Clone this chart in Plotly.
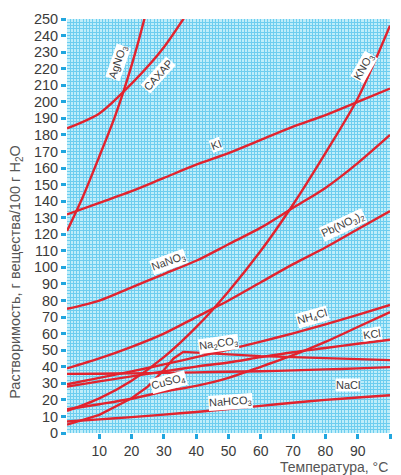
import plotly.graph_objects as go

# Solubility, g of substance per 100 g of water, vs temperature (°C)
t_std = [0, 10, 20, 30, 40, 50, 60, 70, 80, 90, 100]

kno3 = [13.3, 20.9, 31.6, 45.8, 63.9, 85.5, 110, 138, 169, 202, 246]
ki = [132, 139, 146, 154, 162, 169, 177, 185, 192, 200, 208]
nano3 = [75, 80, 88, 96, 104, 114, 124, 136, 148, 163, 180]
pbno3 = [39, 45, 52, 60, 70, 80, 91, 102, 112, 123, 134]
nh4cl = [29.4, 33.3, 37.2, 41.4, 45.8, 50.4, 55.2, 60.2, 65.6, 71.3, 77.3]
kcl = [28, 31.2, 34.2, 37.2, 40.1, 42.6, 45.8, 48.8, 51.3, 53.9, 56.3]
nacl = [35.7, 35.8, 36, 36.3, 36.6, 37, 37.3, 37.8, 38.4, 39, 39.8]
cuso4 = [14.3, 17.4, 20.7, 25, 28.5, 33.3, 40, 47, 55, 64, 73]
nahco3 = [6.9, 8.2, 9.6, 11.1, 12.7, 14.5, 16.4, 18.3, 20, 21.4, 22.8]

t_agno3 = [0, 5, 10, 15, 20, 25, 30]
agno3 = [122, 143, 167, 192, 222, 258, 300]

t_sugar = [0, 10, 20, 30, 40]
sugar = [184, 193, 211, 233, 262]

t_na2co3 = [0, 10, 20, 25, 30, 33, 36, 40, 50, 60, 70, 80, 90, 100]
na2co3 = [5, 11, 21, 28, 38, 45, 49, 48.5, 47.3, 46.4, 45.8, 45.1, 44.6, 44]

series = [
    (t_std, kno3, "spline"),
    (t_std, ki, "spline"),
    (t_std, nano3, "spline"),
    (t_std, pbno3, "spline"),
    (t_std, nh4cl, "spline"),
    (t_std, kcl, "spline"),
    (t_std, nacl, "spline"),
    (t_std, cuso4, "spline"),
    (t_std, nahco3, "spline"),
    (t_agno3, agno3, "spline"),
    (t_sugar, sugar, "spline"),
    (t_na2co3, na2co3, "linear"),
]

# Curve labels: text, anchor temperature, anchor solubility, rotation
labels = [
    ("AgNO<sub>3</sub>", 15.9, 224, -71),
    ("САХАР", 28.3, 216, -48),
    ("KNO<sub>3</sub>", 92, 221, -60),
    ("KI", 46, 174, -21),
    ("NaNO<sub>3</sub>", 31.4, 103.5, -20),
    ("Pb(NO<sub>3</sub>)<sub>2</sub>", 85.4, 125.6, -25),
    ("NH<sub>4</sub>Cl", 76, 70, -16),
    ("KCl", 94.5, 60, -8),
    ("Na<sub>2</sub>CO<sub>3</sub>", 47, 54, -8),
    ("CuSO<sub>4</sub>", 31.5, 31, -15),
    ("NaCl", 87, 29, 0),
    ("NaHCO<sub>3</sub>", 50.6, 18.7, -4),
]

RED = "#e2232e"
GRID = "#6dcdef"
TICK = "#22a6de"
TXT = "#3b3b3b"
FONT = "Liberation Sans, Arial"

fig = go.Figure()
for tx, vals, shape in series:
    fig.add_trace(go.Scatter(
        x=tx, y=vals, mode="lines",
        line=dict(color=RED, width=2.4, shape=shape, smoothing=0.8),
        hoverinfo="skip", showlegend=False,
    ))

for text, lx, ly, ang in labels:
    fig.add_annotation(
        x=lx, y=ly, text=text, textangle=ang, showarrow=False,
        font=dict(family=FONT, size=11, color=TXT),
        bgcolor="white", borderpad=0,
    )

fig.add_annotation(
    xref="paper", yref="paper", x=-0.16, y=0.39,
    xanchor="center", yanchor="middle",
    text="Растворимость, г вещества/100 г H<sub>2</sub>O",
    textangle=-90, showarrow=False,
    font=dict(family=FONT, size=14.5, color="#555555"),
)
fig.add_annotation(
    xref="paper", yref="paper", x=1.0, y=-0.083,
    xanchor="right", yanchor="middle",
    text="Температура, °C", showarrow=False,
    font=dict(family=FONT, size=14, color="#555555"),
)

fig.update_xaxes(
    range=[0, 100], tickvals=list(range(10, 101, 10)),
    showgrid=True, gridcolor=GRID, gridwidth=1, zeroline=False,
    ticks="outside", ticklen=5, tickwidth=3, tickcolor=TICK,
    tickfont=dict(family=FONT, size=14, color=TXT),
    minor=dict(dtick=1, showgrid=True, gridcolor=GRID, gridwidth=1),
    showline=False, fixedrange=True,
)
fig.update_yaxes(
    range=[0, 250], tickvals=list(range(0, 251, 10)),
    showgrid=True, gridcolor=GRID, gridwidth=1, zeroline=False,
    ticks="outside", ticklen=5, tickwidth=3, tickcolor=TICK,
    tickfont=dict(family=FONT, size=14.5, color=TXT),
    minor=dict(dtick=2, showgrid=True, gridcolor=GRID, gridwidth=1),
    showline=False, fixedrange=True,
)

fig.update_layout(
    width=401, height=475,
    margin=dict(l=67, r=11, t=16, b=42),
    plot_bgcolor="#bdedfa", paper_bgcolor="white",
    showlegend=False,
)

fig.write_html("out.html")
